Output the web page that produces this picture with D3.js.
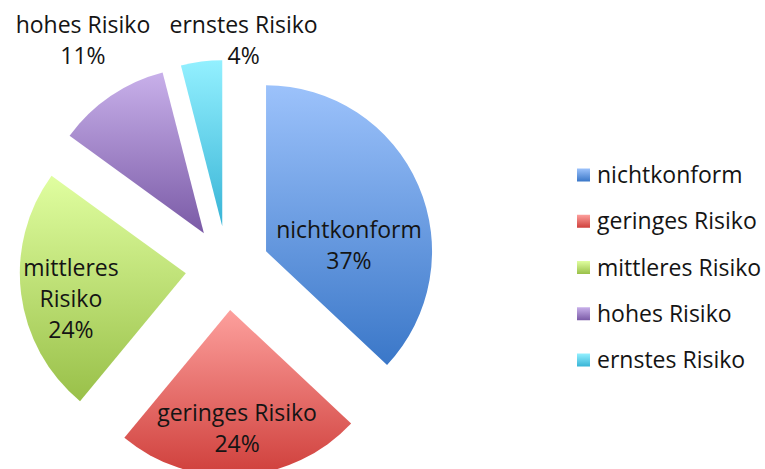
<!DOCTYPE html>
<meta charset="utf-8">
<style>
body { margin: 0; background: #fff; }
text { font-family: "Open Sans", sans-serif; fill: #141414; }
</style>
<svg width="765" height="469"></svg>
<script src="https://d3js.org/d3.v7.min.js"></script>
<script>

// data
const categories = ["nichtkonform", "geringes Risiko", "mittleres Risiko", "hohes Risiko", "ernstes Risiko"];
const values = [37, 24, 24, 11, 4];
const pieLabels = [["nichtkonform", "37%"], ["geringes Risiko", "24%"], ["mittleres", "Risiko", "24%"], ["hohes Risiko", "11%"], ["ernstes Risiko", "4%"]];
const topColors = ["#9cc2fb", "#fda09d", "#e0fea0", "#c8b0ea", "#93f0ff"];
const bottomColors = ["#3a77c8", "#cf3f3b", "#99c049", "#7a5aa6", "#38b4d6"];

// layout
let svg = d3.select("svg");
let cx = 227.5, cy = 268;
let radius = 166;
let explode = 42;
let fontSize = 23, lineH = 31;
// label placement relative to each slice tip (radius, angle shift in degrees)
let labelR = [83, 120, 118, 227, 186];
let labelShift = [20.4, 0.3, -6, 2, 13.8];

let pie = d3.pie().sort(null).value(d => d);
let arcs = pie(values);
let arc = d3.arc().innerRadius(0).outerRadius(radius);

let defs = svg.append("defs");
categories.forEach((c, i) => {
  let g = defs.append("linearGradient").attr("id", "grad" + i)
    .attr("x1", 0).attr("y1", 0).attr("x2", 0).attr("y2", 1);
  g.append("stop").attr("offset", "0%").attr("stop-color", topColors[i]);
  g.append("stop").attr("offset", "100%").attr("stop-color", bottomColors[i]);
});

function tip(d) {
  let mid = (d.startAngle + d.endAngle) / 2;
  return [cx + explode * Math.sin(mid), cy - explode * Math.cos(mid)];
}

let slices = svg.append("g").selectAll("path")
  .data(arcs)
  .enter().append("path")
  .attr("transform", d => "translate(" + tip(d) + ")")
  .attr("d", arc)
  .attr("fill", (d, i) => "url(#grad" + i + ")");

// labels
let lab = svg.append("g").selectAll("text")
  .data(arcs)
  .enter().append("text")
  .attr("text-anchor", "middle")
  .attr("font-size", fontSize)
  .each(function (d, i) {
    let t = tip(d);
    let a = (d.startAngle + d.endAngle) / 2 + labelShift[i] * Math.PI / 180;
    let x = t[0] + labelR[i] * Math.sin(a);
    let y = t[1] - labelR[i] * Math.cos(a);
    let lines = pieLabels[i];
    let y0 = y - (lines.length - 1) * lineH / 2 + 7;
    d3.select(this).selectAll("tspan")
      .data(lines)
      .enter().append("tspan")
      .attr("x", x)
      .attr("y", (l, k) => y0 + k * lineH)
      .text(l => l);
  });

// legend
let legY = d3.scalePoint().domain(categories).range([175, 360]);
let leg = svg.append("g").selectAll("g")
  .data(categories)
  .enter().append("g")
  .attr("transform", d => "translate(577," + legY(d) + ")");
leg.append("rect")
  .attr("x", 0).attr("y", -6.5).attr("width", 13).attr("height", 13)
  .attr("fill", (d, i) => "url(#grad" + i + ")");
leg.append("text")
  .attr("x", 20).attr("y", 8)
  .attr("font-size", fontSize)
  .text(d => d);

</script>
